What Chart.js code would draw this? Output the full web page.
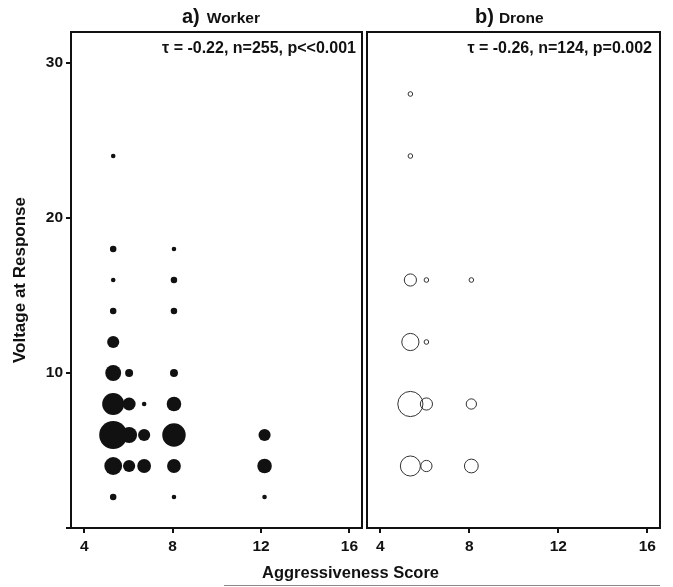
<!DOCTYPE html>
<html><head><meta charset="utf-8">
<script src="https://cdn.jsdelivr.net/npm/chart.js@4.4.1/dist/chart.umd.min.js"></script>
<style>
html,body{margin:0;padding:0;background:#fff}
body{width:673px;height:587px;overflow:hidden;position:relative;font-family:"Liberation Sans",Arial,Helvetica,sans-serif;color:#111}
canvas{position:absolute;top:0}
.t{position:absolute;font-weight:bold;white-space:nowrap;line-height:1}
</style></head><body>
<canvas id="c1" width="366" height="587" style="left:0;width:366px;height:587px"></canvas>
<canvas id="c2" width="307" height="587" style="left:366px;width:307px;height:587px"></canvas>
<div class="t" style="left:182px;top:6px"><span style="font-size:20px">a)</span><span style="font-size:15.5px;margin-left:7px">Worker</span></div>
<div class="t" style="left:475px;top:6px"><span style="font-size:20px">b)</span><span style="font-size:15.5px;margin-left:5px">Drone</span></div>
<div class="t" id="ann1" style="right:317px;top:40px;font-size:16px"></div>
<div class="t" id="ann2" style="right:21px;top:40px;font-size:16px"></div>
<div class="t" style="left:262px;top:564px;font-size:16.5px">Aggressiveness Score</div>
<div style="position:absolute;left:224px;top:585px;width:436px;height:1px;background:#8a8a8a"></div>
<script>
// ---- data ----
const panelTitles = ['a) Worker', 'b) Drone'];
const workerStats = 'τ = -0.22, n=255, p<<0.001';
const droneStats = 'τ = -0.26, n=124, p=0.002';
const xTicks = [4, 8, 12, 16];
const yTicks = [0, 10, 20, 30];
const yTickLabels = ['', '10', '20', '30'];

const workerScore   = [5.31, 5.31, 8.06, 5.31, 8.06, 5.31, 8.06, 5.31, 5.31, 6.03, 8.06, 5.31, 6.03, 6.71, 8.06, 5.31, 6.03, 6.71, 8.06, 12.16, 5.31, 6.03, 6.71, 8.06, 12.16, 5.31, 8.06, 12.16];
const workerVoltage = [24,   18,   18,   16,   16,   14,   14,   12,   10,   10,   10,   8,    8,    8,    8,    6,    6,    6,    6,    6,     4,    4,    4,    4,    4,     2,    2,    2];
const workerCount   = [1,    2,    1,    1,    2,    2,    2,    7,    12,   3,    3,    23,   8,    1,    10,   37,   12,   7,    26,   7,     15,   7,    9,    9,    10,    2,    1,    1];

const droneScore   = [5.35, 5.35, 5.35, 6.07, 8.09, 5.35, 6.07, 5.35, 6.07, 8.09, 5.35, 6.07, 8.09];
const droneVoltage = [28,   24,   16,   16,   16,   12,   12,   8,    8,    8,    4,    4,    4];
const droneCount   = [1,    1,    7,    1,    1,    14,   1,    30,   7,    5,    19,   6,    9];

document.getElementById('ann1').textContent = workerStats;
document.getElementById('ann2').textContent = droneStats;

const FONT = '"Liberation Sans", Arial, Helvetica, sans-serif';
const INK = '#111';
const R_PER_SQRT = 2.3;

function pts(xs, ys, cs) {
  return xs.map((x, i) => ({ x: x, y: ys[i], r: R_PER_SQRT * Math.sqrt(cs[i]) }));
}

const boxPlugin = {
  id: 'box',
  afterDraw(chart) {
    const { ctx, chartArea: a } = chart;
    ctx.save();
    ctx.strokeStyle = INK;
    ctx.lineWidth = 2;
    ctx.strokeRect(a.left, a.top, a.right - a.left, a.bottom - a.top);
    ctx.restore();
  }
};

function xScale() {
  return {
    type: 'linear', min: 3.4, max: 16.57,
    afterBuildTicks(s) { s.ticks = xTicks.map(v => ({ value: v })); },
    afterFit(s) { s.height = 59; },
    grid: { display: true, drawOnChartArea: false, drawTicks: true, tickLength: 5, color: INK, lineWidth: 2 },
    border: { display: false },
    ticks: { color: INK, padding: 4, maxRotation: 0, font: { family: FONT, size: 15.5, weight: 'bold' } }
  };
}

function makeChart(id, data, style, showY, padding) {
  return new Chart(document.getElementById(id), {
    type: 'bubble',
    data: { datasets: [Object.assign({ data: data }, style)] },
    options: {
      responsive: false, animation: false, events: [],
      layout: { padding: padding, autoPadding: false },
      plugins: { legend: { display: false }, tooltip: { enabled: false }, title: { display: false } },
      scales: {
        x: xScale(),
        y: {
          type: 'linear', min: 0, max: 32, display: showY,
          afterBuildTicks(s) { s.ticks = yTicks.map(v => ({ value: v })); },
          afterFit(s) { s.width = showY ? 71 : 0; },
          grid: { display: true, drawOnChartArea: false, drawTicks: true, tickLength: 5, color: INK, lineWidth: 2 },
          border: { display: false },
          ticks: {
            color: INK, padding: 3, font: { family: FONT, size: 15.5, weight: 'bold' },
            callback: (v) => { const i = yTicks.indexOf(v); return i >= 0 ? yTickLabels[i] : ''; }
          },
          title: { display: true, text: 'Voltage at Response', color: INK, padding: { top: 10, bottom: 0 },
                   font: { family: FONT, size: 17, weight: 'bold' } }
        }
      }
    },
    plugins: [boxPlugin]
  });
}

makeChart('c1', pts(workerScore, workerVoltage, workerCount),
  { backgroundColor: INK, borderColor: INK, borderWidth: 0 }, true,
  { top: 32, right: 4, bottom: 0, left: 0 });

makeChart('c2', pts(droneScore, droneVoltage, droneCount),
  { backgroundColor: 'rgba(255,255,255,0)', borderColor: '#333', borderWidth: 1 }, false,
  { top: 32, right: 13, bottom: 0, left: 1 });
</script>
</body></html>
